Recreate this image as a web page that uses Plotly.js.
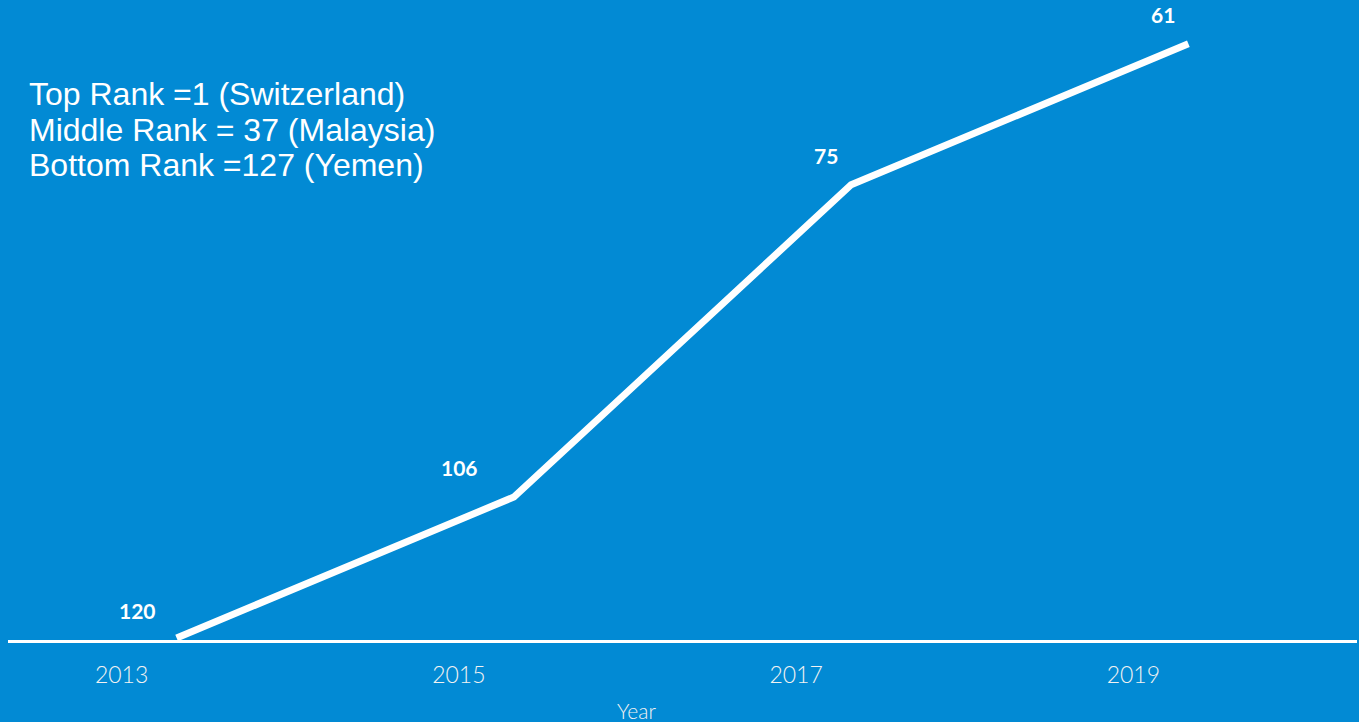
<!DOCTYPE html>
<html>
<head>
<meta charset="utf-8">
<script src="https://cdn.plot.ly/plotly-3.0.1.min.js"></script>
<style>html,body{margin:0;padding:0;background:#028AD4;}#chart{width:1359px;height:722px;}</style>
</head>
<body>
<div id="chart"></div>
<script>
const years = ["2013", "2015", "2017", "2019"];
const ranks = [120, 106, 75, 61];
const noteLines = ["Top Rank =1 (Switzerland)", "Middle Rank = 37 (Malaysia)", "Bottom Rank =127 (Yemen)"];
const axisTitle = "Year";

// label offsets (style only)
const labelDx = [-39, -54, -25, -25];
const labelDy = [27, 29, 29, 29];

const bg = "#028AD4";
const plotH = 640;

const trace = {
  type: "scatter",
  mode: "lines",
  x: years,
  y: ranks,
  line: {color: "#ffffff", width: 7},
  cliponaxis: false,
  hoverinfo: "x+y"
};

const annotations = years.map((yr, i) => ({
  x: i, y: ranks[i], xref: "x", yref: "y",
  text: "<b>" + ranks[i] + "</b>", showarrow: false,
  xanchor: "center", yanchor: "middle",
  xshift: labelDx[i], yshift: labelDy[i],
  font: {family: "Lato, 'Open Sans', sans-serif", size: 21, color: "#ffffff"}
}));

noteLines.forEach((line, i) => {
  annotations.push({
    xref: "paper", yref: "paper", x: 0, y: 1, xanchor: "left", yanchor: "middle",
    xshift: 19, yshift: -(94 + i * 35.5), align: "left", showarrow: false,
    text: line,
    font: {family: "'Liberation Sans', Arial, sans-serif", size: 32, color: "#ffffff"}
  });
});

annotations.push({
  xref: "paper", yref: "paper", x: (636 - 8) / 1349, y: 0, yshift: -70,
  xanchor: "center", yanchor: "middle", showarrow: false,
  text: axisTitle,
  font: {family: "Lato, 'Open Sans', sans-serif", size: 21, color: "#f2f2f2", weight: 300}
});

const layout = {
  width: 1359, height: 722,
  paper_bgcolor: bg, plot_bgcolor: bg,
  margin: {l: 8, r: 2, t: 0, b: 82},
  showlegend: false,
  xaxis: {
    type: "category", range: [-0.5, 3.5],
    showgrid: false, zeroline: false,
    showline: true, linecolor: "#ffffff", linewidth: 3,
    ticks: "", ticklabelshift: -55, ticklabelstandoff: 12,
    tickfont: {family: "Lato, 'Open Sans', sans-serif", size: 23, color: "#f2f2f2", weight: 300},
    fixedrange: true
  },
  yaxis: {
    range: [120.2, 56.65], autorange: false,
    showgrid: false, zeroline: false, showline: false,
    showticklabels: false, ticks: "", fixedrange: true
  },
  annotations: annotations
};

Plotly.newPlot("chart", [trace], layout, {displayModeBar: false, staticPlot: true});
</script>
</body>
</html>
